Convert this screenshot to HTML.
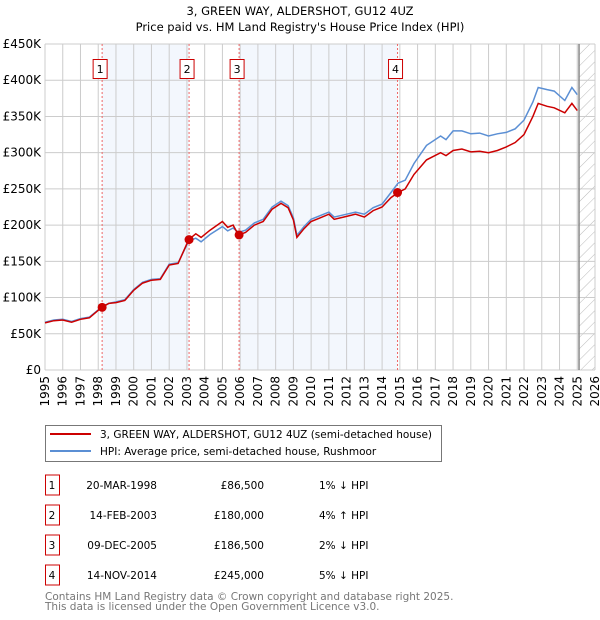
<!DOCTYPE html>
<html><head><meta charset="utf-8"><style>
body{margin:0;background:#fff;font-family:"DejaVu Sans","Liberation Sans",sans-serif;}
svg{display:block}
</style></head><body>
<svg id="c" width="600" height="620" xmlns="http://www.w3.org/2000/svg" font-family="DejaVu Sans, Liberation Sans, sans-serif">
<defs><pattern id="hatch" width="8" height="8" patternUnits="userSpaceOnUse" patternTransform="rotate(45)"><line x1="0" y1="0" x2="0" y2="8" stroke="#bbb" stroke-width="1"/></pattern></defs>
<text x="300" y="15" text-anchor="middle" font-size="11.5">3, GREEN WAY, ALDERSHOT, GU12 4UZ</text>
<text x="300" y="31" text-anchor="middle" font-size="11.5">Price paid vs. HM Land Registry's House Price Index (HPI)</text>
<g id="plot"></g>
<g>
<rect x="45.5" y="425.5" width="396" height="36" fill="#fff" stroke="#777"/>
<line x1="50" y1="434" x2="91" y2="434" stroke="#cc0000" stroke-width="2"/>
<text x="100" y="438" font-size="10.5">3, GREEN WAY, ALDERSHOT, GU12 4UZ (semi-detached house)</text>
<line x1="50" y1="451" x2="91" y2="451" stroke="#5b8fd4" stroke-width="2"/>
<text x="100" y="455" font-size="10.5">HPI: Average price, semi-detached house, Rushmoor</text>
</g>
<g id="table" font-size="10.5"></g>
<text x="45" y="600" font-size="10.5" fill="#777">Contains HM Land Registry data © Crown copyright and database right 2025.</text>
<text x="45" y="610" font-size="10.5" fill="#777">This data is licensed under the Open Government Licence v3.0.</text>
</svg>
<script>
const yearTicks=[1995,1996,1997,1998,1999,2000,2001,2002,2003,2004,2005,2006,2007,2008,2009,2010,2011,2012,2013,2014,2015,2016,2017,2018,2019,2020,2021,2022,2023,2024,2025,2026];
const priceTicks=[0,50000,100000,150000,200000,250000,300000,350000,400000,450000];
const priceTickLabels=["£0","£50K","£100K","£150K","£200K","£250K","£300K","£350K","£400K","£450K"];
const propYears=[1995,1995.5,1996,1996.5,1997,1997.5,1998.2,1998.6,1999,1999.5,2000,2000.5,2001,2001.5,2002,2002.5,2003.1,2003.5,2003.8,2004.3,2005,2005.3,2005.6,2005.9,2006.3,2006.8,2007.3,2007.8,2008.3,2008.7,2009,2009.2,2009.6,2010,2010.5,2011,2011.3,2012,2012.5,2013,2013.5,2014,2014.5,2014.9,2015.3,2015.8,2016.5,2017.3,2017.6,2018,2018.5,2019,2019.5,2020,2020.5,2021,2021.5,2022,2022.5,2022.8,2023.3,2023.7,2024.3,2024.7,2025.0];
const propValues=[65,68,69,66,70,72,86.5,92,93,96,110,120,124,125,145,147,180,188,183,193,205,197,200,186.5,190,200,205,222,230,224,207,183,195,205,210,215,208,212,215,211,220,225,238,245,250,270,290,300,296,303,305,301,302,300,303,308,314,325,350,368,364,362,355,368,358];
const hpiYears=[1995,1995.5,1996,1996.5,1997,1997.5,1998.2,1998.6,1999,1999.5,2000,2000.5,2001,2001.5,2002,2002.5,2003.1,2003.5,2003.8,2004.3,2005,2005.3,2005.6,2005.9,2006.3,2006.8,2007.3,2007.8,2008.3,2008.7,2009,2009.2,2009.6,2010,2010.5,2011,2011.3,2012,2012.5,2013,2013.5,2014,2014.5,2014.9,2015.3,2015.8,2016.5,2017.3,2017.6,2018,2018.5,2019,2019.5,2020,2020.5,2021,2021.5,2022,2022.5,2022.8,2023.3,2023.7,2024.3,2024.7,2025.0];
const hpiValues=[66,69,70,67,71,73,87,92,94,97,111,121,125,126,146,148,178,182,177,187,198,192,196,190,193,203,208,225,233,227,210,186,198,208,213,218,211,215,218,215,224,229,245,258,262,285,310,323,318,330,330,326,327,323,326,328,333,345,370,390,387,385,372,390,380];
const saleYears=[1998.22,2003.12,2005.94,2014.87];
const saleValues=[86.5,180,186.5,245];
const saleDates=["20-MAR-1998","14-FEB-2003","09-DEC-2005","14-NOV-2014"];
const salePrices=["£86,500","£180,000","£186,500","£245,000"];
const saleDiffs=["1% ↓ HPI","4% ↑ HPI","2% ↓ HPI","5% ↓ HPI"];

const NS="http://www.w3.org/2000/svg";
const X0=45,X1=595,Y0=370,Y1=44;
const xs=y=>X0+(y-1995)/(2026-1995)*(X1-X0);
const ys=v=>Y0-v/450000*(Y0-Y1);
const plot=document.getElementById('plot');
function mk(tag,attrs,parent){const e=document.createElementNS(NS,tag);for(const k in attrs)e.setAttribute(k,attrs[k]);(parent||plot).appendChild(e);return e;}
[[0,1],[2,3]].forEach(([a,b],i)=>{const r=mk('rect',{x:xs(saleYears[a]),y:Y1,width:xs(saleYears[b])-xs(saleYears[a]),height:Y0-Y1,fill:'#eef3fc',opacity:0.7});

});
const h=mk('rect',{x:xs(2025.1),y:Y1,width:X1-xs(2025.1),height:Y0-Y1,fill:'url(#hatch)'});


yearTicks.forEach(y=>{const l=mk('line',{x1:xs(y),x2:xs(y),y1:Y1,y2:Y0,stroke:'#ccc'});


const t=mk('text',{x:0,y:0,'font-size':12,'text-anchor':'end',transform:`translate(${xs(y)+4},${Y0+6}) rotate(-90)`});t.textContent=y;

});
priceTicks.forEach((p,i)=>{const l=mk('line',{x1:X0,x2:X1,y1:ys(p),y2:ys(p),stroke:'#ccc'});


const t=mk('text',{x:X0-4,y:ys(p)+4,'font-size':12,'text-anchor':'end'});t.textContent=priceTickLabels[i];

});
const vl=mk('line',{x1:xs(2025.1),x2:xs(2025.1),y1:Y1,y2:Y0,stroke:'#888','stroke-width':1.5});


saleYears.forEach((y,i)=>{const l=mk('line',{x1:xs(y),x2:xs(y),y1:Y1,y2:Y0,stroke:'#e66','stroke-dasharray':'2,2'});


const r=mk('rect',{x:xs(y)-9,y:59.5,width:14,height:19,fill:'#fff',stroke:'#c00'});


const t=mk('text',{x:xs(y)-2,y:73,'font-size':11,'text-anchor':'middle'});t.textContent=i+1;

});
function line(xsA,vs,col,name){const d=xsA.map((y,i)=>(i?'L':'M')+xs(y).toFixed(1)+','+ys(vs[i]*1000).toFixed(1)).join('');
const p=mk('path',{d:d,fill:'none',stroke:col,'stroke-width':1.5});

}
line(hpiYears,hpiValues,'#5b8fd4','hpi-line');
line(propYears,propValues,'#cc0000','property-line');
saleYears.forEach((y,i)=>{const c=mk('circle',{cx:xs(y),cy:ys(saleValues[i]*1000),r:4.5,fill:'#cc0000'});

});
const tb=document.getElementById('table');
saleDates.forEach((d,i)=>{const y=482+i*30;
const r=mk('rect',{x:45.5,y:y-7,width:14,height:20,fill:'#fff',stroke:'#c00'},tb);


const cells=[[52,'middle',i+1],[157,'end',d],[264,'end',salePrices[i]],[319,'start',saleDiffs[i]]];
cells.forEach(([x,a,s])=>{const t=mk('text',{x:x,y:y+7,'text-anchor':a},tb);t.textContent=s;

});});
</script>
</body></html>
